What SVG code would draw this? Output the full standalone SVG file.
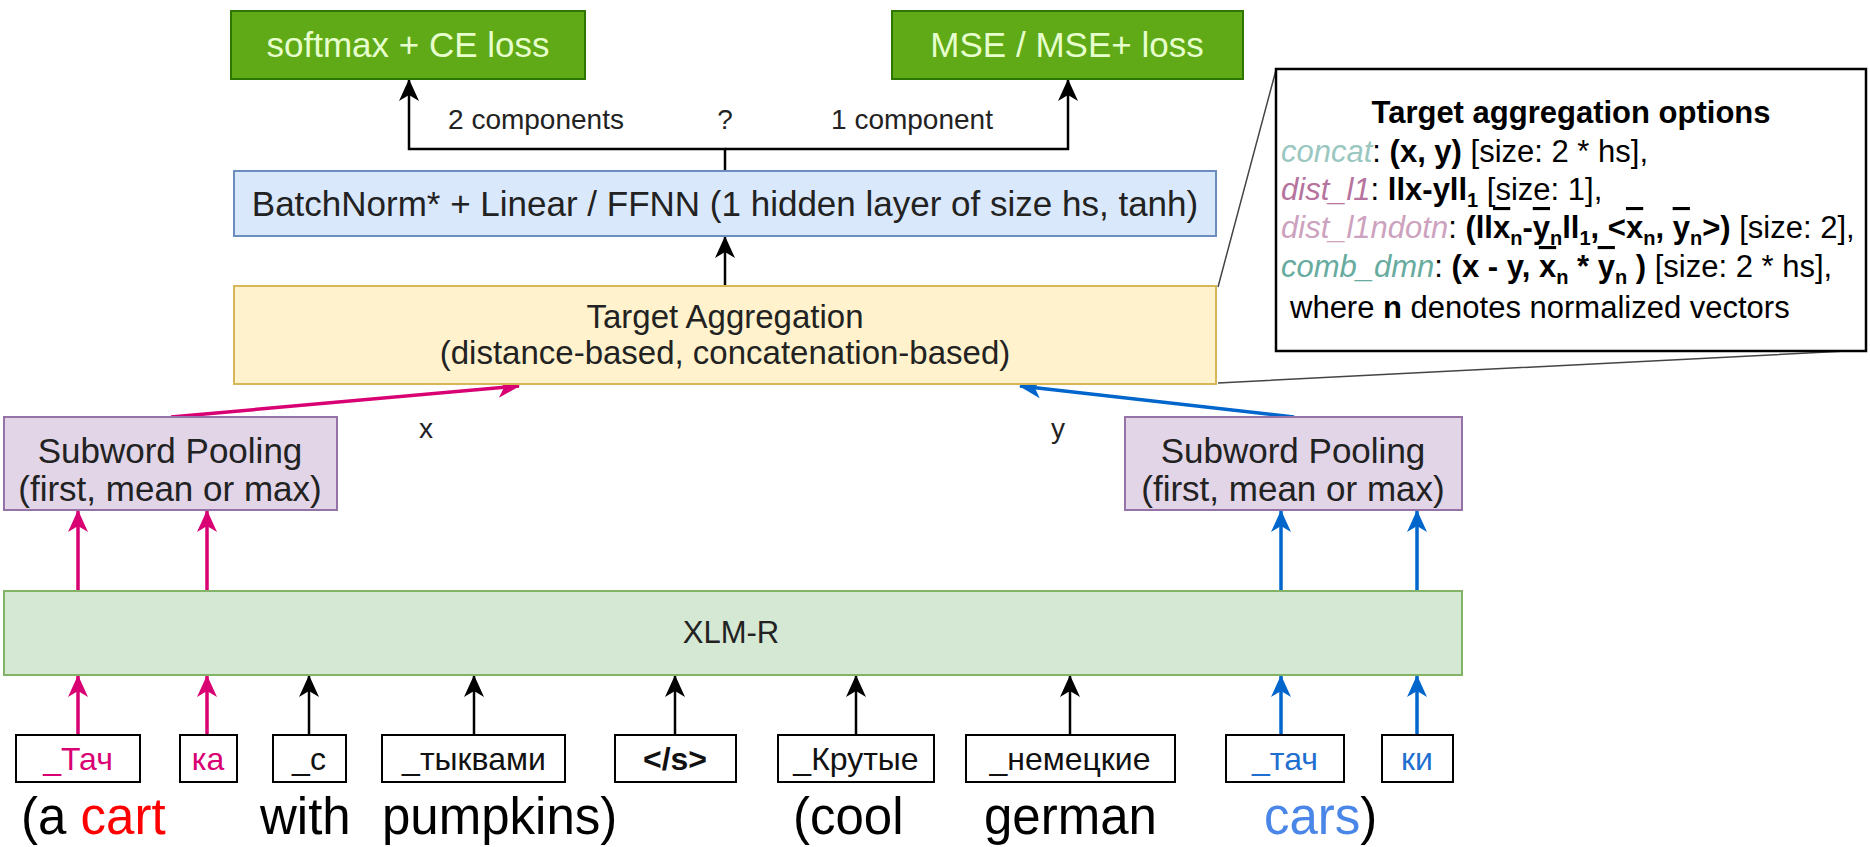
<svg xmlns="http://www.w3.org/2000/svg" width="1870" height="847" viewBox="0 0 1870 847">
<defs>
<style>
text{font-family:"Liberation Sans",Arial,sans-serif;}
.box{stroke-width:2;}
.loss{fill:#60a917;stroke:#2d7600;}
.losst{fill:#e6ffcc;font-size:35px;text-anchor:middle;}
.bn{fill:#dae8fc;stroke:#6c8ebf;}
.ta{fill:#fff2cc;stroke:#d6b656;}
.sp{fill:#e1d5e7;stroke:#9673a6;}
.xl{fill:#d5e8d4;stroke:#82b366;}
.tok{fill:#fff;stroke:#000;stroke-width:2;}
.tt{font-size:32px;text-anchor:middle;fill:#111;}
.lbl{font-size:35px;text-anchor:middle;fill:#222;}
.small{font-size:28px;text-anchor:middle;fill:#222;}
.word{font-size:51px;fill:#000;}
.opt{font-size:31px;fill:#000;}
.b{font-weight:bold;}
.i{font-style:italic;}
.ol{text-decoration:overline;}
.ck{fill:none;stroke:#000;stroke-width:2.5;}
.cp{fill:none;stroke:#d80073;stroke-width:3.5;}
.cb{fill:none;stroke:#0066cc;stroke-width:3.5;}
.pink{fill:#d80073;}
.blue{fill:#1f6fd0;}
</style>
<marker id="ak" markerUnits="userSpaceOnUse" markerWidth="22" markerHeight="20" refX="21" refY="10" orient="auto"><path d="M0,0 L22,10 L0,20 L6,10 Z" fill="#000"/></marker>
<marker id="ap" markerUnits="userSpaceOnUse" markerWidth="22" markerHeight="20" refX="21" refY="10" orient="auto"><path d="M0,0 L22,10 L0,20 L6,10 Z" fill="#d80073"/></marker>
<marker id="ab" markerUnits="userSpaceOnUse" markerWidth="22" markerHeight="20" refX="21" refY="10" orient="auto"><path d="M0,0 L22,10 L0,20 L6,10 Z" fill="#0066cc"/></marker>
</defs>
<rect width="1870" height="847" fill="#fff"/>

<g id="connectors">
<path class="ck" d="M725,171 V149 H409 V80" marker-end="url(#ak)"/>
<path class="ck" d="M725,149 H1068 V80" marker-end="url(#ak)"/>
<path class="ck" d="M725,286 V237" marker-end="url(#ak)"/>
<path class="cp" d="M171,417 L519,386" marker-end="url(#ap)"/>
<path class="cb" d="M1294,417 L1020,386" marker-end="url(#ab)"/>
<path class="cp" d="M78,590 V511" marker-end="url(#ap)"/>
<path class="cp" d="M207,590 V511" marker-end="url(#ap)"/>
<path class="cb" d="M1281,590 V511" marker-end="url(#ab)"/>
<path class="cb" d="M1417,590 V511" marker-end="url(#ab)"/>
<path class="cp" d="M78,735 V676" marker-end="url(#ap)"/>
<path class="cp" d="M207,735 V676" marker-end="url(#ap)"/>
<path class="ck" d="M309,735 V676" marker-end="url(#ak)"/>
<path class="ck" d="M474,735 V676" marker-end="url(#ak)"/>
<path class="ck" d="M675,735 V676" marker-end="url(#ak)"/>
<path class="ck" d="M856,735 V676" marker-end="url(#ak)"/>
<path class="ck" d="M1070,735 V676" marker-end="url(#ak)"/>
<path class="cb" d="M1281,735 V676" marker-end="url(#ab)"/>
<path class="cb" d="M1417,735 V676" marker-end="url(#ab)"/>
<path d="M1218,287 L1276,70 M1218,383 L1866,350" fill="none" stroke="#444" stroke-width="1.5"/>
<text class="small" x="536" y="129">2 components</text>
<text class="small" x="725" y="129">?</text>
<text class="small" x="912" y="129">1 component</text>
<text class="small" x="426" y="438">x</text>
<text class="small" x="1058" y="438">y</text>
</g>

<g id="softmax"><rect class="box loss" x="231" y="11" width="354" height="68"/><text class="losst" x="408" y="57">softmax + CE loss</text></g>
<g id="mse"><rect class="box loss" x="892" y="11" width="351" height="68"/><text class="losst" x="1067" y="57">MSE / MSE+ loss</text></g>
<g id="batchnorm"><rect class="box bn" x="234" y="171" width="982" height="65"/><text class="lbl" x="725" y="216">BatchNorm* + Linear / FFNN (1 hidden layer of size hs, tanh)</text></g>
<g id="target-aggregation"><rect class="box ta" x="234" y="286" width="982" height="98"/><text class="lbl" x="725" y="328" style="font-size:33px">Target Aggregation</text><text class="lbl" x="725" y="364" style="font-size:33px">(distance-based, concatenation-based)</text></g>

<g id="options">
<rect x="1276" y="69" width="590" height="282" fill="#fff" stroke="#000" stroke-width="2.5"/>
<text class="opt b" x="1571" y="123" text-anchor="middle">Target aggregation options</text>
<text class="opt" x="1281" y="162"><tspan class="i" fill="#9ac7bf">concat</tspan>: <tspan class="b">(x, y)</tspan> [size: 2 * hs],</text>
<text class="opt" x="1281" y="200"><tspan class="i" fill="#b5739d">dist_l1</tspan>: <tspan class="b">llx-yll<tspan dy="7" font-size="20">1</tspan></tspan><tspan dy="-7"> [size: 1],</tspan></text>
<text class="opt" x="1281" y="238"><tspan class="i" fill="#cda2be">dist_l1ndotn</tspan>: <tspan class="b">(ll<tspan class="ol">x</tspan><tspan dy="7" font-size="20">n</tspan><tspan dy="-7">-</tspan><tspan class="ol">y</tspan><tspan dy="7" font-size="20">n</tspan><tspan dy="-7">ll</tspan><tspan dy="7" font-size="20">1</tspan><tspan dy="-7">, &lt;</tspan><tspan class="ol">x</tspan><tspan dy="7" font-size="20">n</tspan><tspan dy="-7">, </tspan><tspan class="ol">y</tspan><tspan dy="7" font-size="20">n</tspan><tspan dy="-7">&gt;)</tspan></tspan> [size: 2],</text>
<text class="opt" x="1281" y="277"><tspan class="i" fill="#67ab9f">comb_dmn</tspan>: <tspan class="b">(x - y, <tspan class="ol">x</tspan><tspan dy="7" font-size="20">n</tspan><tspan dy="-7"> * </tspan><tspan class="ol">y</tspan><tspan dy="7" font-size="20">n</tspan><tspan dy="-7"> )</tspan></tspan> [size: 2 * hs],</text>
<text class="opt" x="1290" y="318">where <tspan class="b">n</tspan> denotes normalized vectors</text>
</g>

<g id="pool-left"><rect class="box sp" x="4" y="417" width="333" height="93"/><text class="lbl" x="170" y="463">Subword Pooling</text><text class="lbl" x="170" y="501">(first, mean or max)</text></g>
<g id="pool-right"><rect class="box sp" x="1125" y="417" width="337" height="93"/><text class="lbl" x="1293" y="463">Subword Pooling</text><text class="lbl" x="1293" y="501">(first, mean or max)</text></g>
<g id="xlmr"><rect class="box xl" x="4" y="591" width="1458" height="84"/><text class="lbl" x="731" y="643" style="font-size:31px">XLM-R</text></g>

<g id="tok1"><rect class="tok" x="16" y="735" width="124" height="47"/><text class="tt pink" x="78" y="770">_Тач</text></g>
<g id="tok2"><rect class="tok" x="180" y="735" width="57" height="47"/><text class="tt pink" x="208" y="770">ка</text></g>
<g id="tok3"><rect class="tok" x="273" y="735" width="73" height="47"/><text class="tt" x="309" y="770">_с</text></g>
<g id="tok4"><rect class="tok" x="382" y="735" width="183" height="47"/><text class="tt" x="474" y="770">_тыквами</text></g>
<g id="tok5"><rect class="tok" x="615" y="735" width="121" height="47"/><text class="tt b" x="675" y="770">&lt;/s&gt;</text></g>
<g id="tok6"><rect class="tok" x="778" y="735" width="156" height="47"/><text class="tt" x="856" y="770">_Крутые</text></g>
<g id="tok7"><rect class="tok" x="966" y="735" width="209" height="47"/><text class="tt" x="1070" y="770">_немецкие</text></g>
<g id="tok8"><rect class="tok" x="1226" y="735" width="118" height="47"/><text class="tt blue" x="1285" y="770">_тач</text></g>
<g id="tok9"><rect class="tok" x="1382" y="735" width="71" height="47"/><text class="tt blue" x="1417" y="770">ки</text></g>

<g id="gloss">
<text class="word" x="21" y="834">(a <tspan fill="#ff0000">cart</tspan></text>
<text class="word" x="260" y="834">with</text>
<text class="word" x="382" y="834">pumpkins)</text>
<text class="word" x="793" y="834">(cool</text>
<text class="word" x="984" y="834">german</text>
<text class="word" x="1264" y="834"><tspan fill="#4a86e8">cars</tspan>)</text>
</g>
</svg>
